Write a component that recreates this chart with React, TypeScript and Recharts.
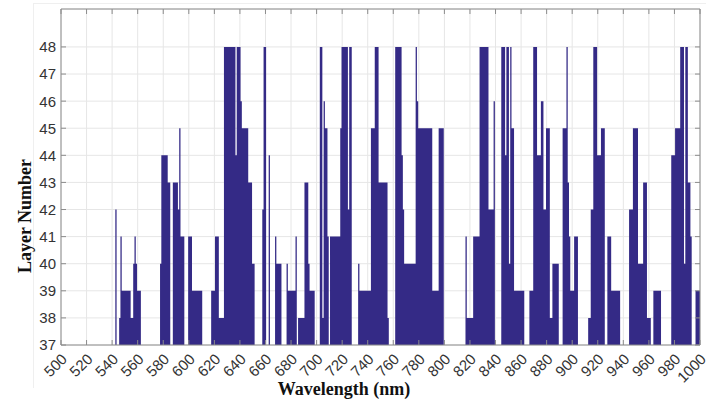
import { AreaChart, Area, XAxis, YAxis, CartesianGrid, Label } from "recharts";

const waveStart = 500;
const waveEnd = 1000;
const baseLayer = 37;

// [from nm, to nm, layer]; every wavelength not listed sits at the base layer (37)
const layerRuns: [number, number, number][] = [
  [543, 543, 42], [546, 546, 38], [547, 547, 41], [548, 554, 39], [555, 556, 38],
  [557, 557, 40], [558, 558, 41], [559, 559, 40], [560, 562, 39],
  [578, 578, 40], [579, 583, 44], [584, 585, 43], [588, 591, 43], [592, 592, 42],
  [593, 593, 45], [594, 596, 41], [600, 602, 41], [603, 610, 39],
  [618, 620, 39], [621, 623, 41], [624, 627, 38], [628, 636, 48], [637, 637, 44],
  [638, 640, 48], [641, 641, 46], [642, 646, 45], [647, 649, 43], [650, 651, 40],
  [658, 658, 42], [659, 660, 48], [663, 663, 44], [668, 668, 41], [669, 672, 40],
  [677, 677, 40], [678, 683, 39], [684, 684, 41], [686, 690, 38], [691, 693, 43],
  [694, 694, 40], [695, 698, 39],
  [703, 704, 48], [705, 705, 38], [706, 706, 46], [707, 708, 45], [709, 709, 41],
  [711, 718, 41], [719, 719, 45], [720, 724, 48], [725, 725, 42], [726, 727, 48],
  [733, 733, 40], [734, 742, 39], [743, 745, 45], [746, 748, 48], [749, 755, 43],
  [756, 756, 38], [762, 766, 48], [767, 767, 44], [768, 768, 42], [769, 777, 40],
  [778, 778, 48], [779, 779, 46], [780, 790, 45], [791, 795, 39], [796, 799, 45],
  [817, 817, 41], [818, 822, 38], [823, 827, 41], [828, 834, 48], [835, 838, 42],
  [839, 839, 46], [845, 847, 48], [848, 848, 44], [849, 850, 48], [851, 851, 40],
  [852, 852, 48], [853, 854, 45], [855, 862, 39], [867, 869, 39], [870, 872, 48],
  [873, 875, 44], [876, 877, 46], [878, 879, 42], [880, 882, 45], [883, 884, 38],
  [885, 889, 40], [893, 895, 45], [896, 896, 48], [897, 897, 43], [898, 898, 41],
  [899, 901, 39], [902, 904, 41],
  [913, 914, 38], [915, 916, 42], [917, 919, 48], [920, 922, 44], [923, 925, 45],
  [928, 930, 41], [931, 937, 39], [945, 947, 42], [948, 951, 45], [952, 955, 40],
  [956, 958, 43], [959, 961, 38], [964, 969, 39], [978, 980, 44], [981, 984, 45],
  [985, 987, 48], [988, 988, 40], [989, 990, 48], [991, 992, 43], [993, 993, 41],
  [997, 1000, 39],
];

const xTicks = [
  500, 520, 540, 560, 580, 600, 620, 640, 660, 680, 700, 720, 740, 760, 780,
  800, 820, 840, 860, 880, 900, 920, 940, 960, 980, 1000,
];
const yTicks = [37, 38, 39, 40, 41, 42, 43, 44, 45, 46, 47, 48];

const data: { nm: number; layer: number }[] = [];
for (let nm = waveStart; nm <= waveEnd; nm++) {
  const run = layerRuns.find((r) => nm >= r[0] && nm <= r[1]);
  data.push({ nm, layer: run ? run[2] : baseLayer });
}

const axisColor = "#8c8c8c";
const textColor = "#333333";
const tickFont = "'Liberation Sans', Arial, sans-serif";
const titleFont = "'Liberation Serif', 'Times New Roman', serif";

function BottomTick(props: any) {
  const { x, y, payload } = props;
  const tx = x + 7;
  const ty = y + 15;
  return (
    <g>
      <line x1={x} y1={y} x2={x} y2={y - 5} stroke={axisColor} />
      <text
        x={tx}
        y={ty}
        transform={`rotate(-45, ${tx}, ${ty})`}
        textAnchor="end"
        fontSize={15}
        fill={textColor}
        fontFamily={tickFont}
      >
        {payload.value}
      </text>
    </g>
  );
}

function TopTick(props: any) {
  const { x, y } = props;
  return <line x1={x} y1={y} x2={x} y2={y + 5} stroke={axisColor} />;
}

function LeftTick(props: any) {
  const { x, y, payload } = props;
  return (
    <g>
      <line x1={x} y1={y} x2={x + 5} y2={y} stroke={axisColor} />
      <text
        x={x - 5}
        y={y}
        dy="0.36em"
        textAnchor="end"
        fontSize={15}
        fill={textColor}
        fontFamily={tickFont}
      >
        {payload.value}
      </text>
    </g>
  );
}

function RightTick(props: any) {
  const { x, y } = props;
  return <line x1={x} y1={y} x2={x - 5} y2={y} stroke={axisColor} />;
}

export default function App() {
  return (
    <div
      style={{
        position: "absolute",
        left: 0,
        top: 0,
        width: 709,
        height: 400,
        background: "#fff",
      }}
    >
      <div
        style={{
          position: "absolute",
          left: 33,
          top: 3,
          width: 672,
          height: 384,
          borderLeft: "1px solid #efefef",
          borderTop: "1px solid #efefef",
        }}
      />
      <AreaChart
        width={709}
        height={400}
        data={data}
        margin={{ top: 8, right: 8, left: 0, bottom: 0 }}
        style={{ position: "absolute", left: 0, top: 0 }}
      >
        <CartesianGrid stroke="#e6e6e6" />
        <XAxis
          dataKey="nm"
          type="number"
          domain={[waveStart, waveEnd]}
          ticks={xTicks}
          interval={0}
          height={55}
          tickSize={0}
          tickMargin={0}
          tickLine={false}
          axisLine={{ stroke: axisColor }}
          tick={BottomTick}
        >
          <Label
            content={() => (
              <text
                x={344}
                y={395}
                textAnchor="middle"
                fontSize={18}
                fontWeight="bold"
                fill="#111"
                fontFamily={titleFont}
              >
                Wavelength (nm)
              </text>
            )}
          />
        </XAxis>
        <XAxis
          xAxisId="top"
          dataKey="nm"
          type="number"
          orientation="top"
          domain={[waveStart, waveEnd]}
          ticks={xTicks}
          interval={0}
          height={1}
          tickSize={0}
          tickMargin={0}
          tickLine={false}
          axisLine={{ stroke: axisColor }}
          tick={TopTick}
        />
        <YAxis
          type="number"
          domain={[37, 49.4]}
          ticks={yTicks}
          interval={0}
          allowDataOverflow
          width={61}
          tickSize={0}
          tickMargin={0}
          tickLine={false}
          axisLine={{ stroke: axisColor }}
          tick={LeftTick}
        >
          <Label
            content={() => (
              <text
                x={31}
                y={216}
                transform="rotate(-90, 31, 216)"
                textAnchor="middle"
                fontSize={18}
                fontWeight="bold"
                fill="#111"
                fontFamily={titleFont}
              >
                Layer Number
              </text>
            )}
          />
        </YAxis>
        <YAxis
          yAxisId="right"
          orientation="right"
          type="number"
          domain={[37, 49.4]}
          ticks={yTicks}
          interval={0}
          allowDataOverflow
          width={1}
          tickSize={0}
          tickMargin={0}
          tickLine={false}
          axisLine={{ stroke: axisColor }}
          tick={RightTick}
        />
        <Area
          dataKey="layer"
          type="step"
          baseValue={baseLayer}
          stroke="none"
          fill="#342a86"
          fillOpacity={1}
          isAnimationActive={false}
          dot={false}
          activeDot={false}
        />
      </AreaChart>
    </div>
  );
}
